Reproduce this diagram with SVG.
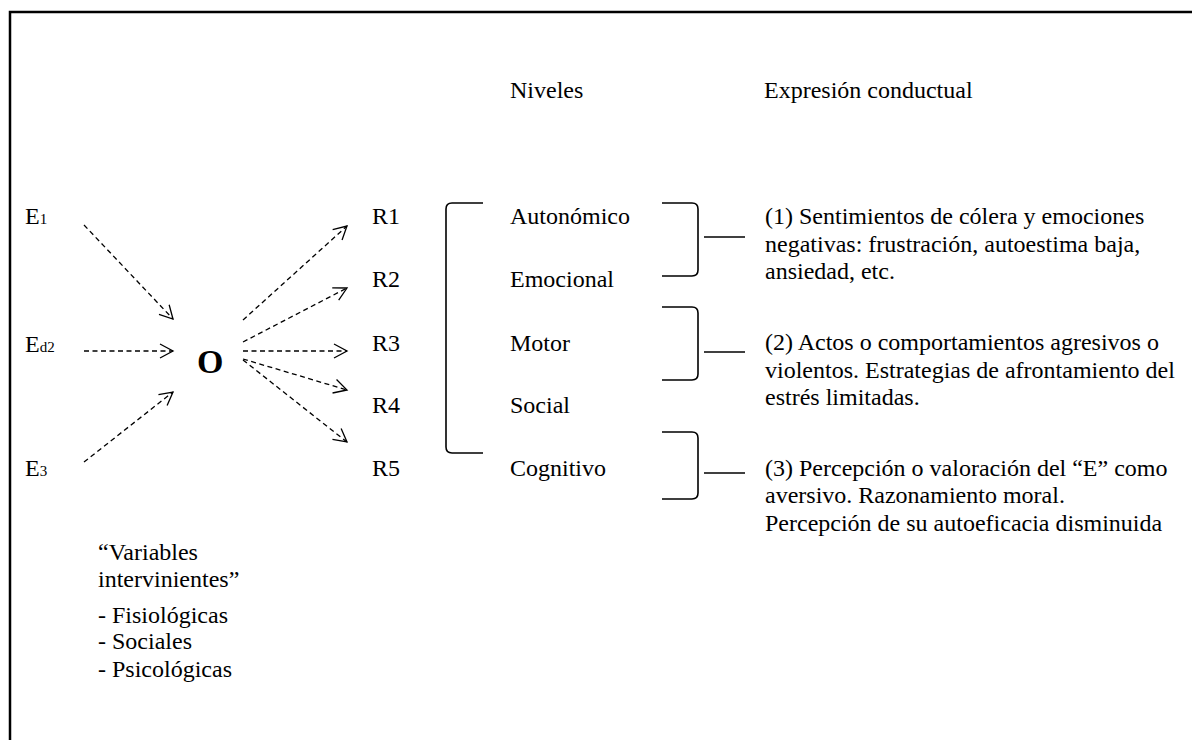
<svg xmlns="http://www.w3.org/2000/svg" width="1192" height="740" viewBox="0 0 1192 740">
<defs>
<style>
text{font-family:"Liberation Serif","Times New Roman",serif;font-size:24px;fill:#000}
.sub{font-size:15px}
.big{font-size:34px;font-weight:bold}
.dash{stroke:#000;stroke-width:1.3;stroke-dasharray:5 3.5;fill:none;marker-end:url(#v)}
.br{stroke:#000;stroke-width:1.6;fill:none}
.ln{stroke:#000;stroke-width:1.3}
</style>
<marker id="v" markerWidth="16" markerHeight="16" viewBox="0 0 16 16" refX="14" refY="8" orient="auto" markerUnits="userSpaceOnUse">
<path d="M1,1 L14,8 L1,15" fill="none" stroke="#000" stroke-width="1.3" stroke-dasharray="none"/>
</marker>
</defs>
<rect width="1192" height="740" fill="#fff"/>
<path d="M10,740 L10,12 L1192,12" fill="none" stroke="#000" stroke-width="2.5"/>

<g id="headers">
<text x="510" y="98">Niveles</text>
<text x="764" y="98">Expresión conductual</text>
</g>

<g id="stimuli">
<g id="E1"><text x="25" y="224">E<tspan class="sub">1</tspan></text></g>
<g id="Ed2"><text x="25" y="352">E<tspan class="sub">d2</tspan></text></g>
<g id="E3"><text x="25" y="476">E<tspan class="sub">3</tspan></text></g>
</g>

<g id="O"><text class="big" x="197" y="373">O</text></g>

<g id="responses">
<g id="R1"><text x="372" y="224">R1</text></g>
<g id="R2"><text x="372" y="287">R2</text></g>
<g id="R3"><text x="372" y="351">R3</text></g>
<g id="R4"><text x="372" y="413">R4</text></g>
<g id="R5"><text x="372" y="476">R5</text></g>
</g>

<g id="levels">
<text x="510" y="224">Autonómico</text>
<text x="510" y="287">Emocional</text>
<text x="510" y="351">Motor</text>
<text x="510" y="413">Social</text>
<text x="510" y="476">Cognitivo</text>
</g>

<g id="brackets">
<path class="br" d="M483,203 L452,203 Q446,203 446,209 L446,447 Q446,453 452,453 L483,453"/>
<path class="br" d="M662,203 L692,203 Q698,203 698,209 L698,270 Q698,276 692,276 L662,276"/>
<path class="br" d="M662,307 L692,307 Q698,307 698,313 L698,374 Q698,380 692,380 L662,380"/>
<path class="br" d="M662,432 L692,432 Q698,432 698,438 L698,493 Q698,499 692,499 L662,499"/>
</g>

<g id="expressions">
<text x="765" y="224">(1) Sentimientos de cólera y emociones</text>
<text x="765" y="252">negativas: frustración, autoestima baja,</text>
<text x="765" y="279">ansiedad, etc.</text>
<text x="765" y="350">(2) Actos o comportamientos agresivos o</text>
<text x="765" y="378">violentos. Estrategias de afrontamiento del</text>
<text x="765" y="405">estrés limitadas.</text>
<text x="765" y="476">(3) Percepción o valoración del “E” como</text>
<text x="765" y="503">aversivo. Razonamiento moral.</text>
<text x="765" y="531">Percepción de su autoeficacia disminuida</text>
</g>

<g id="variables">
<text x="98" y="560">“Variables</text>
<text x="98" y="587">intervinientes”</text>
<text x="98" y="623">- Fisiológicas</text>
<text x="98" y="649">- Sociales</text>
<text x="98" y="677">- Psicológicas</text>
</g>

<g id="connectors">
<path class="dash" d="M84,225 L173,319"/>
<path class="dash" d="M84,351 L173,351"/>
<path class="dash" d="M84,462 L173,392"/>
<path class="dash" d="M243,320 L347,226"/>
<path class="dash" d="M243,342 L347,288"/>
<path class="dash" d="M243,351 L347,351"/>
<path class="dash" d="M243,359 L347,390"/>
<path class="dash" d="M243,360 L347,442"/>
<line class="ln" x1="704" y1="237" x2="745" y2="237"/>
<line class="ln" x1="704" y1="352" x2="745" y2="352"/>
<line class="ln" x1="704" y1="473" x2="745" y2="473"/>
</g>
</svg>
